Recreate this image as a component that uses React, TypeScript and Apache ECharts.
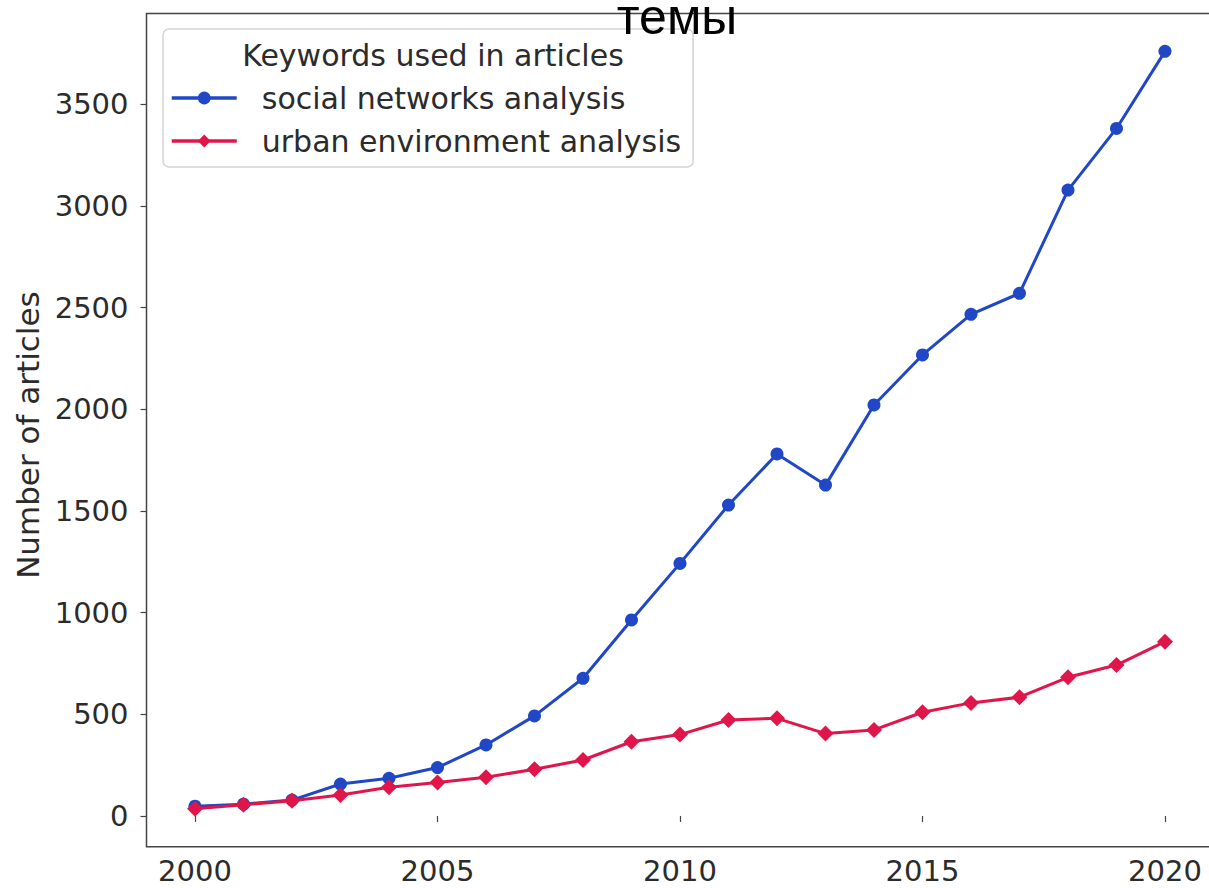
import React, { useEffect, useRef } from "react";
import * as echarts from "echarts";

// Publication counts per year for two keyword queries
const years = [
  2000, 2001, 2002, 2003, 2004, 2005, 2006, 2007, 2008, 2009, 2010,
  2011, 2012, 2013, 2014, 2015, 2016, 2017, 2018, 2019, 2020,
];
const socialNetworks = [
  48, 58, 78, 157, 185, 238, 349, 492, 677, 964, 1242,
  1529, 1780, 1627, 2021, 2267, 2467, 2570, 3078, 3381, 3760,
];
const urbanEnvironment = [
  35, 55, 75, 103, 141, 164, 190, 230, 275, 365, 400,
  472, 480, 405, 423, 510, 556, 584, 682, 742, 857,
];
const xTicks = [2000, 2005, 2010, 2015, 2020];
const yTicks = [0, 500, 1000, 1500, 2000, 2500, 3000, 3500];

const seriesNames = ["social networks analysis", "urban environment analysis"];
const legendTitle = "Keywords used in articles";
const chartTitle = "темы";
const yAxisName = "Number of articles";

const FONT = "DejaVu Sans";
const AXIS = "#444";
const TEXT = "#2b2b2b";
const BLUE = "#1f47c6";
const RED = "#e0164a";

export default function App() {
  const ref = useRef<HTMLDivElement>(null);

  useEffect(() => {
    if (!ref.current) return;
    const chart = echarts.init(ref.current, undefined, { renderer: "svg" });

    // 5% padding around the data range on both axes
    const xSpan = years[years.length - 1] - years[0];
    const allVals = socialNetworks.concat(urbanEnvironment);
    const vMin = Math.min(...allVals);
    const vMax = Math.max(...allVals);
    const vSpan = vMax - vMin;

    chart.setOption({
      animation: false,
      backgroundColor: "#ffffff",
      textStyle: { fontFamily: FONT },
      grid: {
        left: 146.5,
        top: 13.5,
        right: -4.5,
        bottom: 41.3,
        containLabel: false,
        outerBoundsMode: "none",
        show: true,
        borderColor: AXIS,
        borderWidth: 1.5,
        backgroundColor: "transparent",
      },
      xAxis: {
        type: "value",
        min: years[0] - xSpan * 0.05,
        max: years[years.length - 1] + xSpan * 0.05,
        axisLine: { show: false },
        splitLine: { show: false },
        axisTick: {
          show: true,
          length: 6,
          customValues: xTicks,
          lineStyle: { color: AXIS, width: 1.2 },
        },
        axisLabel: {
          customValues: xTicks,
          formatter: (v: number) => String(v),
          margin: 10,
          fontSize: 29,
          color: TEXT,
          fontFamily: FONT,
        },
      },
      yAxis: {
        type: "value",
        min: vMin - vSpan * 0.05,
        max: vMax + vSpan * 0.05,
        name: yAxisName,
        nameLocation: "middle",
        nameGap: 102,
        nameTextStyle: {
          fontSize: 31,
          color: TEXT,
          fontFamily: FONT,
          padding: [0, 10, 0, 0],
        },
        axisLine: { show: false },
        splitLine: { show: false },
        axisTick: {
          show: true,
          length: 6,
          customValues: yTicks,
          lineStyle: { color: AXIS, width: 1.2 },
        },
        axisLabel: {
          customValues: yTicks,
          formatter: (v: number) => String(v),
          margin: 18,
          fontSize: 29,
          color: TEXT,
          fontFamily: FONT,
        },
      },
      legend: {
        show: true,
        selectedMode: false,
        orient: "vertical",
        left: 163,
        top: 29,
        padding: [52, 12, 9, 7],
        itemWidth: 65,
        itemHeight: 16,
        itemGap: 9,
        backgroundColor: "rgba(255,255,255,0.85)",
        borderColor: "#d4d4d4",
        borderWidth: 1.5,
        borderRadius: 6,
        textStyle: {
          fontSize: 30,
          color: TEXT,
          fontFamily: FONT,
          lineHeight: 34,
          padding: [0, 0, 0, 20],
        },
        data: [
          { name: seriesNames[0], itemStyle: { color: BLUE }, lineStyle: { width: 3.5 } },
          { name: seriesNames[1], itemStyle: { color: RED }, lineStyle: { width: 3.5 } },
        ],
      },
      graphic: [
        {
          type: "text",
          z: 100,
          x: 433,
          y: 55,
          style: {
            text: legendTitle,
            fontSize: 30,
            fontFamily: FONT,
            fill: TEXT,
            align: "center",
            verticalAlign: "middle",
          },
        },
        {
          type: "text",
          z: 100,
          x: 677,
          y: 17,
          style: {
            text: chartTitle,
            fontSize: 50,
            lineHeight: 34,
            fontFamily: "Liberation Sans",
            fill: "#000000",
            align: "center",
            verticalAlign: "middle",
          },
        },
      ],
      series: [
        {
          name: seriesNames[0],
          type: "line",
          data: years.map((y, i) => [y, socialNetworks[i]]),
          symbol: "circle",
          symbolSize: 13,
          lineStyle: { color: BLUE, width: 3 },
          itemStyle: { color: BLUE },
          z: 3,
        },
        {
          name: seriesNames[1],
          type: "line",
          data: years.map((y, i) => [y, urbanEnvironment[i]]),
          symbol: "diamond",
          symbolSize: 16,
          lineStyle: { color: RED, width: 3 },
          itemStyle: { color: RED },
          z: 4,
        },
      ],
    });

    return () => chart.dispose();
  }, []);

  return (
    <div
      ref={ref}
      style={{ position: "absolute", left: 0, top: 0, width: 1209, height: 888 }}
    />
  );
}
